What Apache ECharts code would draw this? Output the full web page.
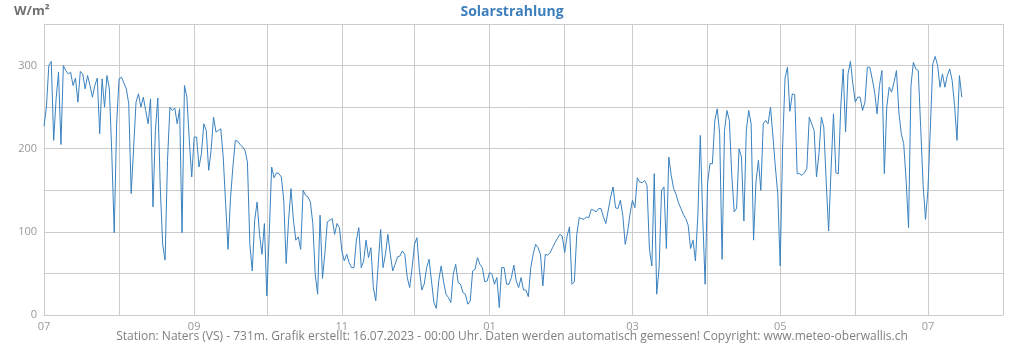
<!DOCTYPE html>
<html>
<head>
<meta charset="utf-8">
<script src="https://cdn.jsdelivr.net/npm/echarts@6/dist/echarts.min.js"></script>
<style>
html,body{margin:0;padding:0;background:#fff;}
#chart{width:1024px;height:350px;}
</style>
</head>
<body>
<div id="chart"></div>
<script>
// Daily solar radiation (W/m²), Naters (VS)
var startDate = '2022-07-01';
var endDate = '2023-08-01';
var jul22 = [227,250,300,305,210,260,292,205,300,294,290,292,276,285,256,293,290,272,288,276,262,276,285,218,284,250,288,272,194,99,230];
var aug22 = [284,286,279,272,254,146,200,256,266,250,262,246,230,260,130,222,261,154,85,66,186,250,246,249,230,248,99,276,262,210,166];
var sep22 = [214,214,178,194,230,222,174,198,238,220,222,224,190,134,79,140,178,210,209,205,202,198,184,85,53,114,136,97,73,110];
var oct22 = [23,97,178,165,171,170,166,138,62,114,152,114,90,94,79,150,144,142,136,110,49,25,120,44,75,112,114,116,97,110,105];
var nov22 = [77,65,73,63,57,57,90,105,57,65,90,69,81,33,17,61,103,57,73,97,73,53,61,70,71,77,73,45,33,57];
var dec22 = [85,93,55,30,37,57,67,41,15,8,41,59,40,25,21,15,49,61,39,37,27,25,13,17,53,55,69,61,57,40,41];
var jan23 = [51,49,37,45,9,57,57,37,37,45,60,41,33,45,30,30,22,57,73,85,81,73,35,73,72,75,81,87,92,97,95];
var feb23 = [75,95,106,37,40,97,117,116,115,118,117,127,126,124,128,128,118,110,126,142,154,129,128,138,120,85,100,122];
var mar23 = [138,129,165,160,159,162,156,79,59,170,25,57,150,154,80,190,168,152,145,135,128,121,116,108,80,90,65,120,216,118,37];
var apr23 = [158,182,182,234,248,218,67,222,246,234,168,124,128,200,190,113,222,246,230,90,160,186,150,230,234,230,250,215,178,146];
var may23 = [59,202,285,298,245,266,265,170,170,168,171,176,238,230,222,166,194,238,226,160,101,175,242,171,170,250,296,220,290,305,278];
var jun23 = [256,262,262,246,256,298,298,284,268,242,276,294,170,250,274,268,280,294,244,218,206,162,105,276,304,296,294,226,157,115];
var jul23 = [150,225,302,311,300,274,290,274,288,296,282,252,210,288,262];
var yTickLabels = ['0','100','200','300'];
var titleText = 'Solarstrahlung';
var unitText = 'W/m²';
var footerText = 'Station: Naters (VS) - 731m. Grafik erstellt: 16.07.2023 - 00:00 Uhr. Daten werden automatisch gemessen! Copyright: www.meteo-oberwallis.ch';

var values = [].concat(jul22, aug22, sep22, oct22, nov22, dec22, jan23, feb23, mar23, apr23, may23, jun23, jul23);

// day categories
var categories = [];
(function(){
  var d = new Date(startDate + 'T00:00:00Z');
  var e = new Date(endDate + 'T00:00:00Z');
  while (d <= e) {
    categories.push(d.toISOString().slice(0,10));
    d = new Date(d.getTime() + 86400000);
  }
})();

function isMonthStart(v){ return v.slice(8,10) === '01'; }
function isLabelMonth(v){ return isMonthStart(v) && (parseInt(v.slice(5,7),10) % 2 === 1); }

var chart = echarts.init(document.getElementById('chart'), null, {renderer:'canvas'});
chart.setOption({
  animation: false,
  backgroundColor: '#ffffff',
  textStyle: { fontFamily: 'Open Sans' },
  title: [
    { text: titleText, left: 'center', top: 0,
      textStyle: { fontFamily: 'Open Sans', fontSize: 14, fontWeight: 'bold', color: '#3d7fbd' } },
    { text: unitText, left: 9, top: 0,
      textStyle: { fontFamily: 'Open Sans', fontSize: 13, fontWeight: 'bold', color: '#707070' } },
    { text: footerText, left: 'center', bottom: 2,
      textStyle: { fontFamily: 'Open Sans', fontSize: 12, fontWeight: 'normal', color: '#808080' } }
  ],
  grid: { left: 44, right: 21, top: 24, bottom: 35, containLabel: false },
  xAxis: {
    type: 'category',
    data: categories,
    boundaryGap: false,
    axisLine: { show: true, lineStyle: { color: '#cccccc', width: 1 } },
    axisTick: { show: false },
    axisLabel: {
      interval: function(i, v){ return isLabelMonth(v); },
      formatter: function(v){ return v.slice(5,7); },
      color: '#999999', fontSize: 11, margin: 6, fontFamily: 'Open Sans'
    },
    splitLine: {
      show: true,
      interval: function(i, v){ return isMonthStart(v); },
      lineStyle: { color: '#cccccc', width: 1 }
    }
  },
  yAxis: {
    type: 'value',
    min: 0, max: 350, interval: 50,
    axisLine: { show: true, lineStyle: { color: '#cccccc', width: 1 } },
    axisTick: { show: false },
    axisLabel: {
      formatter: function(v){ var s = String(v); return yTickLabels.indexOf(s) >= 0 ? s : ''; },
      color: '#999999', fontSize: 11, margin: 7, fontFamily: 'Open Sans'
    },
    splitLine: { show: true, lineStyle: { color: '#cccccc', width: 1 } }
  },
  series: [{
    type: 'line',
    data: values,
    showSymbol: false,
    symbol: 'none',
    smooth: false,
    lineStyle: { color: '#3a82c0', width: 1 },
    itemStyle: { color: '#3a82c0' }
  }]
});
</script>
</body>
</html>
